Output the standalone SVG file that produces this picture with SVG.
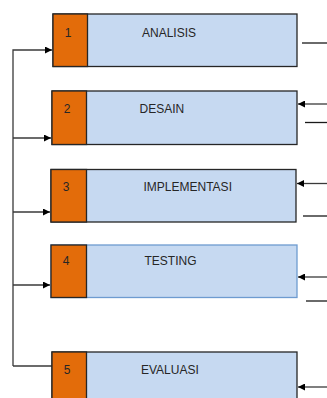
<svg xmlns="http://www.w3.org/2000/svg" width="327" height="398" viewBox="0 0 327 398">
<style>
.box{fill:#C6D9F1;stroke:#262626;stroke-width:1.3}
.box4{fill:#C6D9F1;stroke:#6E9BD0;stroke-width:1.3}
.num{fill:#E36C0A;stroke:#262626;stroke-width:1.3}
.t{font-family:"Liberation Sans",Arial,sans-serif;font-size:12px;fill:#262626}
.c{stroke:#3a3a3a;stroke-width:1.3;fill:none}
.k{stroke:#1a1a1a;stroke-width:1.3;fill:none}
</style>
<defs>
<marker id="ah" viewBox="0 0 10 10" refX="10" refY="5" markerWidth="7" markerHeight="7" markerUnits="userSpaceOnUse" orient="auto">
<path d="M0,0 L10,5 L0,10 z" fill="#000"/>
</marker>
</defs>
<rect width="327" height="398" fill="#fff"/>
<g id="connectors">
<path class="c" d="M13,366 V50 H52" marker-end="url(#ah)"/>
<path class="c" d="M13,138 H51" marker-end="url(#ah)"/>
<path class="c" d="M13,212 H50" marker-end="url(#ah)"/>
<path class="c" d="M13,285 H50" marker-end="url(#ah)"/>
<path class="c" d="M13,366 H52"/>
<path class="k" d="M302,43 H327"/>
<path class="c" d="M327,104 H298" marker-end="url(#ah)"/>
<path class="k" d="M305,122.5 H327"/>
<path class="c" d="M327,183.5 H297" marker-end="url(#ah)"/>
<path class="k" d="M303,216 H327"/>
<path class="c" d="M327,277 H298" marker-end="url(#ah)"/>
<path class="k" d="M306,301 H327"/>
<path class="c" d="M327,387 H298" marker-end="url(#ah)"/>
</g>
<g id="node1">
<rect class="box" x="53" y="14" width="244" height="52.5"/>
<rect class="num" x="53" y="14" width="34.5" height="52.5"/>
<text class="t" x="68" y="37" text-anchor="middle">1</text>
<text class="t" x="142" y="37">ANALISIS</text>
</g>
<g id="node2">
<rect class="box" x="52" y="91" width="245" height="53.5"/>
<rect class="num" x="52" y="91" width="34.5" height="53.5"/>
<text class="t" x="67" y="113" text-anchor="middle">2</text>
<text class="t" x="139.5" y="113">DESAIN</text>
</g>
<g id="node3">
<rect class="box" x="51" y="169.5" width="245" height="52.5"/>
<rect class="num" x="51" y="169.5" width="35.5" height="52.5"/>
<text class="t" x="66" y="191" text-anchor="middle">3</text>
<text class="t" x="143.5" y="191">IMPLEMENTASI</text>
</g>
<g id="node4">
<rect class="box4" x="51" y="245" width="246" height="52.5"/>
<rect class="num" x="51" y="245" width="35.5" height="52.5"/>
<text class="t" x="66" y="264.5" text-anchor="middle">4</text>
<text class="t" x="144.5" y="264.5">TESTING</text>
</g>
<g id="node5">
<rect class="box" x="52" y="352" width="245" height="60"/>
<rect class="num" x="52" y="352" width="34.5" height="60"/>
<text class="t" x="67" y="373.5" text-anchor="middle">5</text>
<text class="t" x="141" y="373.5">EVALUASI</text>
</g>
</svg>
